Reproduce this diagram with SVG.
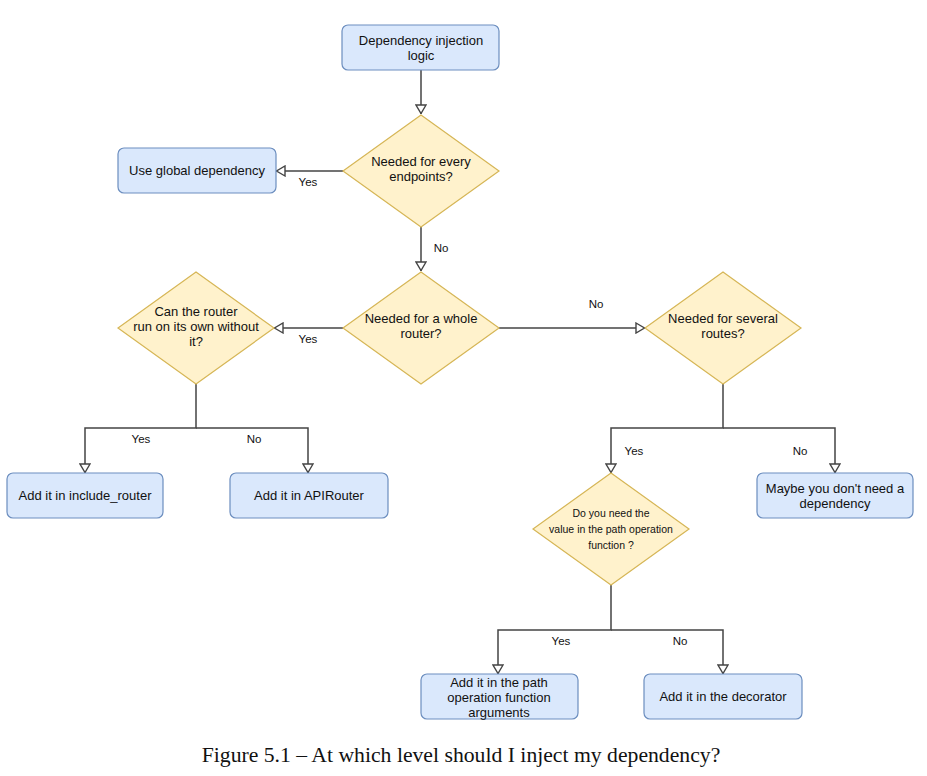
<svg xmlns="http://www.w3.org/2000/svg" width="927" height="776" viewBox="0 0 927 776">
<defs>
<marker id="arr" viewBox="0 0 10 12" markerWidth="10" markerHeight="12" refX="10" refY="6" orient="auto" markerUnits="userSpaceOnUse">
<path d="M1,1 L9.5,6 L1,11 z" fill="#ffffff" stroke="#444" stroke-width="1.4"/>
</marker>
<style>
.box{fill:#dae8fc;stroke:#6c8ebf;stroke-width:1.2}
.dia{fill:#fff2cc;stroke:#d6b656;stroke-width:1.2}
.t{font-family:"Liberation Sans",Arial,sans-serif;font-size:13px;fill:#111;text-anchor:middle}
.s{font-family:"Liberation Sans",Arial,sans-serif;font-size:10.5px;fill:#111;text-anchor:middle}
.l{font-family:"Liberation Sans",Arial,sans-serif;font-size:11.5px;fill:#111;text-anchor:middle}
.c{fill:none;stroke:#444;stroke-width:1.5}
.cap{font-family:"Liberation Serif","Times New Roman",serif;font-size:21.7px;fill:#111;text-anchor:middle}
</style>
</defs>
<rect width="927" height="776" fill="#ffffff"/>
<g id="connectors">
<path class="c" d="M421,70 V114" marker-end="url(#arr)"/>
<path class="c" d="M343,171 H276" marker-end="url(#arr)"/>
<path class="c" d="M421,227 V271" marker-end="url(#arr)"/>
<path class="c" d="M343,328 H274" marker-end="url(#arr)"/>
<path class="c" d="M499,328 H645" marker-end="url(#arr)"/>
<path class="c" d="M196,384 V428 H85 V473" marker-end="url(#arr)"/>
<path class="c" d="M196,428 H308 V473" marker-end="url(#arr)"/>
<path class="c" d="M723,384 V428 H611 V473" marker-end="url(#arr)"/>
<path class="c" d="M723,428 H835 V473" marker-end="url(#arr)"/>
<path class="c" d="M611,585 V630 H498 V674" marker-end="url(#arr)"/>
<path class="c" d="M611,630 H723 V674" marker-end="url(#arr)"/>
<text class="l" x="308" y="186">Yes</text>
<text class="l" x="441" y="252">No</text>
<text class="l" x="308" y="343">Yes</text>
<text class="l" x="596" y="308">No</text>
<text class="l" x="141" y="443">Yes</text>
<text class="l" x="254" y="443">No</text>
<text class="l" x="634" y="455">Yes</text>
<text class="l" x="800" y="455">No</text>
<text class="l" x="561" y="645">Yes</text>
<text class="l" x="680" y="645">No</text>
</g>
<g id="start">
<rect class="box" x="342" y="25" width="157" height="45" rx="6"/>
<text class="t" x="421" y="45">Dependency injection</text>
<text class="t" x="421" y="60">logic</text>
</g>
<g id="q-every">
<path class="dia" d="M421,115 L499,171 L421,227 L343,171 z"/>
<text class="t" x="421" y="166">Needed for every</text>
<text class="t" x="421" y="181">endpoints?</text>
</g>
<g id="global">
<rect class="box" x="118" y="148" width="158" height="45" rx="6"/>
<text class="t" x="197" y="175">Use global dependency</text>
</g>
<g id="q-router">
<path class="dia" d="M421,272 L499,328 L421,384 L343,328 z"/>
<text class="t" x="421" y="323">Needed for a whole</text>
<text class="t" x="421" y="338">router?</text>
</g>
<g id="q-own">
<path class="dia" d="M196,272 L274,328 L196,384 L118,328 z"/>
<text class="t" x="196" y="316">Can the router</text>
<text class="t" x="196" y="331">run on its own without</text>
<text class="t" x="196" y="346">it?</text>
</g>
<g id="q-several">
<path class="dia" d="M723,272 L801,328 L723,384 L645,328 z"/>
<text class="t" x="723" y="323">Needed for several</text>
<text class="t" x="723" y="338">routes?</text>
</g>
<g id="include-router">
<rect class="box" x="7" y="473" width="156" height="45" rx="6"/>
<text class="t" x="85" y="500">Add it in include_router</text>
</g>
<g id="apirouter">
<rect class="box" x="230" y="473" width="158" height="45" rx="6"/>
<text class="t" x="309" y="500">Add it in APIRouter</text>
</g>
<g id="no-dependency">
<rect class="box" x="757" y="473" width="156" height="45" rx="6"/>
<text class="t" x="835" y="493">Maybe you don't need a</text>
<text class="t" x="835" y="508">dependency</text>
</g>
<g id="q-value">
<path class="dia" d="M611,473 L689,529 L611,585 L533,529 z"/>
<text class="s" x="611" y="517">Do you need the</text>
<text class="s" x="611" y="533">value in the path operation</text>
<text class="s" x="611" y="549">function ?</text>
</g>
<g id="arguments">
<rect class="box" x="421" y="674" width="157" height="45" rx="6"/>
<text class="t" x="499" y="687">Add it in the path</text>
<text class="t" x="499" y="702">operation function</text>
<text class="t" x="499" y="717">arguments</text>
</g>
<g id="decorator">
<rect class="box" x="644" y="674" width="158" height="45" rx="6"/>
<text class="t" x="723" y="701">Add it in the decorator</text>
</g>
<text class="cap" x="461" y="762">Figure 5.1 – At which level should I inject my dependency?</text>
</svg>
